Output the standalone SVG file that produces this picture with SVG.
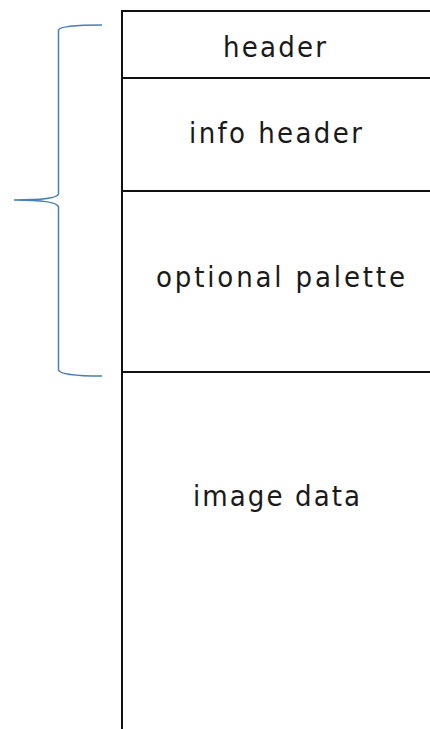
<svg xmlns="http://www.w3.org/2000/svg" width="430" height="729" viewBox="0 0 430 729">
<style>
.frame{stroke:#111;stroke-width:2;fill:none}
.lbl{font-family:"DejaVu Sans Condensed","DejaVu Sans",sans-serif;font-stretch:condensed;font-size:29px;fill:#1a1a1a}
.brace{stroke:#4a7ebb;stroke-width:1.5;fill:none}
</style>
<rect width="430" height="729" fill="#fff"/>
<g id="frame">
<line class="frame" x1="122" y1="10" x2="122" y2="729"/>
<line class="frame" x1="121" y1="11" x2="430" y2="11"/>
</g>
<g id="header">
<line class="frame" x1="122" y1="78" x2="430" y2="78"/>
<text class="lbl" x="223" y="57" textLength="103" lengthAdjust="spacing">header</text>
</g>
<g id="info-header">
<line class="frame" x1="122" y1="191" x2="430" y2="191"/>
<text class="lbl" x="189" y="143" textLength="173" lengthAdjust="spacing">info header</text>
</g>
<g id="optional-palette">
<line class="frame" x1="122" y1="372" x2="430" y2="372"/>
<text class="lbl" x="156" y="287" textLength="249" lengthAdjust="spacing">optional palette</text>
</g>
<g id="image-data">
<text class="lbl" x="193" y="506" textLength="167" lengthAdjust="spacing">image data</text>
</g>
<g id="connectors">
<path class="brace" d="M102,25 C80,25 60,26 58.5,30 L58.5,194 C57.5,198 40,200 14,200 C40,200 57.5,202 58.5,207 L58.5,370 C60,375 80,376 102,376"/>
</g>
</svg>
